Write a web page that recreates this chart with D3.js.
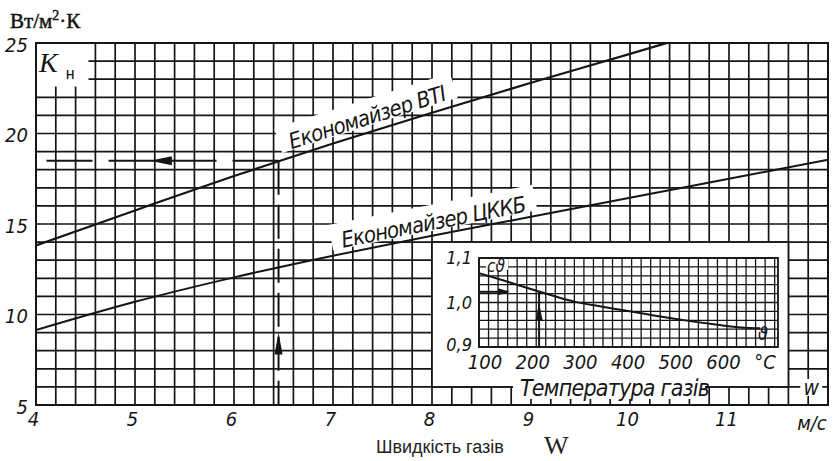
<!DOCTYPE html>
<html><head><meta charset="utf-8">
<script src="https://cdn.jsdelivr.net/npm/d3@7"></script>
<style>html,body{margin:0;padding:0;background:#fff}svg{display:block}</style>
</head><body>
<svg id="c" width="838" height="461"></svg>
<script>
// ---- data ----
const speedTicks = [4,5,6,7,8,9,10,11];
const kTicks = [5,10,15,20,25];
const speedBTI = [4,5,6,7,8,9,10,10.4];
const kBTI = [13.82,15.75,17.65,19.45,21.15,22.8,24.4,25.05];
const speedCKKB = [4,5,6,7,8,9,10,11,12];
const kCKKB = [9.14,10.7,12.05,13.25,14.35,15.4,16.45,17.5,18.55];
const tempC = [100,150,200,250,300,350,400,450,500,550,600,650,690];
const cTheta = [1.066,1.05,1.033,1.017,1.002,0.992,0.983,0.974,0.965,0.957,0.95,0.944,0.942];
const tempTicks = [100,200,300,400,500,600];
const cTickValues = [1.1,1.0,0.9];
const cTickLabels = ["1,1","1,0","0,9"];
const guideSpeed = 6.45, guideK = 18.5;
const guideTemp = 226, guideC = 1.024;
const labelBTI = "Економайзер ВТІ", labelCKKB = "Економайзер ЦККБ";

const gost = "'Liberation Sans Narrow','DejaVu Sans Condensed','Liberation Sans',sans-serif";
const ink = "#151515";
const svg = d3.select("#c");
svg.append("rect").attr("width",838).attr("height",461).attr("fill","#fff");

const x = d3.scaleLinear([4,12],[36,828]);
const y = d3.scaleLinear([5,25],[405,43]);

// main grid
const g = svg.append("g");
g.selectAll("line.v").data(d3.range(0,41).map(i=>4+i*0.2)).join("line")
  .attr("x1",d=>x(d)).attr("x2",d=>x(d)).attr("y1",y(5)).attr("y2",y(25))
  .attr("stroke",ink).attr("stroke-width",1.7);
g.selectAll("line.h").data(d3.range(5,26)).join("line")
  .attr("x1",x(4)).attr("x2",x(12)).attr("y1",d=>y(d)).attr("y2",d=>y(d))
  .attr("stroke",ink).attr("stroke-width",1.7);
g.append("rect").attr("x",x(4)).attr("y",y(25)).attr("width",x(12)-x(4)).attr("height",y(5)-y(25))
  .attr("fill","none").attr("stroke",ink).attr("stroke-width",2);

// white patches
svg.append("rect").attr("x",x(4)+1).attr("y",y(25)+1).attr("width",x(4.52)-x(4)).attr("height",y(22.65)-y(25)).attr("fill","#fff");
// inset box
svg.append("rect").attr("x",x(8)).attr("y",y(14)).attr("width",x(11.6)-x(8)).attr("height",y(6)-y(14))
  .attr("fill","#fff").attr("stroke",ink).attr("stroke-width",1.7);

// interpolators for line labels
const kAtBTI = s => d3.scaleLinear(speedBTI,kBTI)(s);
const kAtCKKB = s => d3.scaleLinear(speedCKKB,kCKKB)(s);

function lineLabel(text, s0, kFn, off, len, fs){
  const s1 = s0 + 1.5;
  const ang = Math.atan2(y(kFn(s1))-y(kFn(s0)), x(s1)-x(s0))*180/Math.PI;
  const gg = svg.append("g").attr("transform",`translate(${x(s0)},${y(kFn(s0))-off}) rotate(${ang})`);
  gg.append("rect").attr("x",-10).attr("y",-fs-3).attr("width",len+20).attr("height",fs+4).attr("fill","#fff");
  gg.append("text").attr("x",0).attr("y",0).text(text)
    .attr("font-family",gost).attr("font-style","italic").attr("font-size",fs).attr("fill",ink)
    .attr("textLength",len).attr("lengthAdjust","spacing");
}
lineLabel(labelBTI, 6.58, kAtBTI, 8, 164, 22);
lineLabel(labelCKKB, 7.1, kAtCKKB, 6, 188, 22);

// Температура газів patch
svg.append("rect").attr("x",513).attr("y",372).attr("width",192).attr("height",27).attr("fill","#fff");
svg.append("text").attr("x",520).attr("y",396).text("Температура газів")
  .attr("font-family",gost).attr("font-style","italic").attr("font-size",23).attr("fill",ink)
  .attr("textLength",190).attr("lengthAdjust","spacing");
// w label
svg.append("rect").attr("x",x(11.72)).attr("y",y(6)-8).attr("width",22).attr("height",17).attr("fill","#fff");
svg.append("text").attr("x",x(11.83)).attr("y",y(6)+8).attr("text-anchor","middle").text("w")
  .attr("font-family",gost).attr("font-style","italic").attr("font-size",21).attr("fill",ink);

// clip
svg.append("clipPath").attr("id","plot").append("rect")
  .attr("x",x(4)).attr("y",y(25)).attr("width",x(12)-x(4)).attr("height",y(5)-y(25));

const line = d3.line().x(d=>x(d[0])).y(d=>y(d[1])).curve(d3.curveMonotoneX);
svg.append("path").attr("clip-path","url(#plot)").attr("d",line(d3.zip(speedBTI,kBTI)))
  .attr("fill","none").attr("stroke",ink).attr("stroke-width",2.2);
svg.append("path").attr("clip-path","url(#plot)").attr("d",line(d3.zip(speedCKKB,kCKKB)))
  .attr("fill","none").attr("stroke",ink).attr("stroke-width",2);

// guide dashed lines
svg.append("line").attr("x1",x(guideSpeed)).attr("x2",x(guideSpeed)).attr("y1",y(guideK)).attr("y2",y(5))
  .attr("stroke",ink).attr("stroke-width",2).attr("stroke-dasharray","34,10");
svg.append("line").attr("x1",x(guideSpeed)).attr("x2",x(4)).attr("y1",y(guideK)).attr("y2",y(guideK))
  .attr("stroke",ink).attr("stroke-width",2).attr("stroke-dasharray","46,16");
// arrowheads
function arrow(px,py,dir,len,hw){
  let p;
  if(dir==="left") p=[[px,py],[px+len,py-hw],[px+len,py+hw]];
  if(dir==="right") p=[[px,py],[px-len,py-hw],[px-len,py+hw]];
  if(dir==="up") p=[[px,py],[px-hw,py+len],[px+hw,py+len]];
  svg.append("path").attr("d","M"+p.map(q=>q.join(",")).join("L")+"Z").attr("fill",ink);
}
arrow(x(5.15),y(guideK),"left",22,4.5);
arrow(x(guideSpeed),y(9.0),"up",22,4);

// ---- inset ----
const xi = d3.scaleLinear([100,727],[479,778]);
const yi = d3.scaleLinear([0.9,1.1],[347,258]);
const gi = svg.append("g");
gi.selectAll("line.v").data(d3.range(100,721,20)).join("line")
  .attr("x1",d=>xi(d)).attr("x2",d=>xi(d)).attr("y1",yi(0.9)).attr("y2",yi(1.1))
  .attr("stroke",ink).attr("stroke-width",1.3);
gi.selectAll("line.h").data(d3.range(0,11).map(i=>0.9+i*0.02)).join("line")
  .attr("x1",xi(100)).attr("x2",xi(727)).attr("y1",d=>yi(d)).attr("y2",d=>yi(d))
  .attr("stroke",ink).attr("stroke-width",1.3);
gi.append("rect").attr("x",xi(100)).attr("y",yi(1.1)).attr("width",xi(727)-xi(100)).attr("height",yi(0.9)-yi(1.1))
  .attr("fill","none").attr("stroke",ink).attr("stroke-width",1.8);
const linei = d3.line().x(d=>xi(d[0])).y(d=>yi(d[1])).curve(d3.curveMonotoneX);
gi.append("path").attr("d",linei(d3.zip(tempC,cTheta))).attr("fill","none").attr("stroke",ink).attr("stroke-width",2);
gi.append("line").attr("x1",xi(guideTemp)).attr("x2",xi(guideTemp)).attr("y1",yi(0.9)).attr("y2",yi(guideC))
  .attr("stroke",ink).attr("stroke-width",2);
gi.append("line").attr("x1",xi(100)).attr("x2",xi(160)).attr("y1",yi(guideC)).attr("y2",yi(guideC))
  .attr("stroke",ink).attr("stroke-width",2);
arrow(xi(165),yi(guideC),"right",12,3.5);
arrow(xi(guideTemp),yi(1.0),"up",18,3.5);

// inset labels
gi.selectAll("text.tx").data(tempTicks).join("text")
  .attr("x",d=>xi(d)+6).attr("y",369).attr("text-anchor","middle").text(d=>d)
  .attr("font-family",gost).attr("font-style","italic").attr("font-size",20).attr("fill",ink);
gi.append("text").attr("x",xi(700)).attr("y",369).attr("text-anchor","middle").text("°C")
  .attr("font-family",gost).attr("font-style","italic").attr("font-size",20).attr("fill",ink);
gi.selectAll("text.ty").data(cTickValues).join("text")
  .attr("x",472).attr("y",(d,i)=>yi(d)+(i===2?4:6)).attr("text-anchor","end").text((d,i)=>cTickLabels[i])
  .attr("font-family",gost).attr("font-style","italic").attr("font-size",18).attr("fill",ink);
gi.append("rect").attr("x",486).attr("y",259).attr("width",22).attr("height",11).attr("fill","#fff");
gi.append("text").attr("x",487).attr("y",272).text("cϑ")
  .attr("font-family",gost).attr("font-style","italic").attr("font-size",17).attr("fill",ink);
gi.append("text").attr("x",763).attr("y",340).attr("text-anchor","middle").text("ϑ")
  .attr("font-family",gost).attr("font-style","italic").attr("font-size",18).attr("fill",ink);

// ---- axes ----
svg.append("g").attr("transform",`translate(${x(4)},2)`)
  .call(d3.axisLeft(y).tickValues(kTicks).tickSize(0).tickPadding(8))
  .call(a=>a.select(".domain").remove())
  .selectAll("text").attr("font-family",gost).attr("font-style","italic").attr("font-size",20).attr("fill",ink);
svg.append("g").attr("transform",`translate(-3,${y(5)})`)
  .call(d3.axisBottom(x).tickValues(speedTicks).tickSize(0).tickPadding(7))
  .call(a=>a.select(".domain").remove())
  .selectAll("text").attr("font-family",gost).attr("font-style","italic").attr("font-size",20).attr("fill",ink);
svg.append("text").attr("x",812).attr("y",430).attr("text-anchor","middle").text("м/с")
  .attr("font-family",gost).attr("font-style","italic").attr("font-size",20).attr("fill",ink);

// unit
const u = svg.append("text").attr("x",10).attr("y",28)
  .attr("font-family","'Liberation Serif','Times New Roman',serif").attr("font-size",21).attr("fill",ink)
  .attr("stroke",ink).attr("stroke-width",0.5);
u.append("tspan").text("Вт/м");
u.append("tspan").attr("dy",-8).attr("font-size",14).text("2");
u.append("tspan").attr("dy",8).text("·К");

// K_н
const kn = svg.append("text").attr("x",39).attr("y",72).attr("fill",ink);
kn.append("tspan").text("K").attr("font-family","'Liberation Serif',serif").attr("font-style","italic").attr("font-size",28);
kn.append("tspan").attr("dx",8).attr("dy",7).text("н").attr("font-family","'Liberation Sans',sans-serif").attr("font-size",16);

// x title
svg.append("text").attr("x",376).attr("y",453).text("Швидкість газів")
  .attr("font-family","'Liberation Sans',Arial,sans-serif").attr("font-size",18).attr("fill","#222");
svg.append("text").attr("x",544).attr("y",454).text("W")
  .attr("font-family","'Liberation Serif',serif").attr("font-size",26).attr("fill","#222");
</script>
</body></html>
